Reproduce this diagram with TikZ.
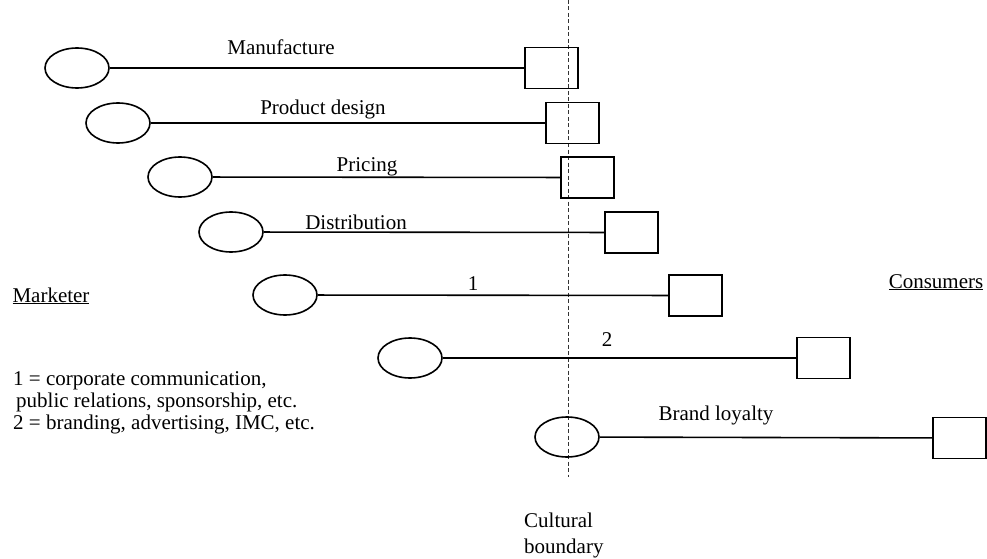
\documentclass[tikz,border=0pt]{standalone}
\usepackage{fontspec}
\setmainfont{Liberation Serif}
\usetikzlibrary{shapes.geometric}
\begin{document}
\begin{tikzpicture}[x=1pt,y=-1pt,
  actor/.style={draw,ellipse,line width=1.6pt,minimum width=64pt,minimum height=40pt,inner sep=0pt},
  target/.style={draw,rectangle,line width=1.6pt,minimum width=53pt,minimum height=41pt,inner sep=0pt},
  link/.style={line width=1.6pt},
  lbl/.style={font=\fontsize{21}{25}\selectfont,inner sep=0pt,anchor=base},
  side/.style={font=\fontsize{21}{25}\selectfont,inner sep=0pt,anchor=base},
  key/.style={font=\fontsize{21}{25}\selectfont,inner sep=0pt,anchor=base west},
  boundary/.style={line width=0.6pt,dash pattern=on 4pt off 2.5pt,black!80}]
\useasboundingbox (0,0) rectangle (987,559);

% cultural boundary
\coordinate (bt) at (568,0);
\coordinate (bb) at (568,477);
\draw[boundary] (bt) -- (bb);

% marketer (ellipses) linked to consumers (boxes)
\node[actor] (m1) at (77,68) {};
\node[target,anchor=west] (c1) at (524,68) {};
\draw[link] (m1) -- (c1);
\node[lbl] (t1) at (281,55) {Manufacture};

\node[actor] (m2) at (118,123) {};
\node[target,anchor=west] (c2) at (545,123) {};
\draw[link] (m2) -- (c2);
\node[lbl] (t2) at (323,114) {Product design};

\node[actor] (m3) at (180,177) {};
\node[target,anchor=west] (c3) at (560,177.5) {};
\draw[link] (m3) -- (c3);
\node[lbl] (t3) at (367,171) {Pricing};

\node[actor] (m4) at (231,232) {};
\node[target,anchor=west] (c4) at (604,232.5) {};
\draw[link] (m4) -- (c4);
\node[lbl] (t4) at (356,229) {Distribution};

\node[actor] (m5) at (285,295) {};
\node[target,anchor=west] (c5) at (668,295.5) {};
\draw[link] (m5) -- (c5);
\node[lbl] (t5) at (473,290) {1};

\node[actor] (m6) at (410,358) {};
\node[target,anchor=west] (c6) at (796,358) {};
\draw[link] (m6) -- (c6);
\node[lbl] (t6) at (607,346) {2};

\node[actor] (m7) at (567,437) {};
\node[target,anchor=west] (c7) at (932,438) {};
\draw[link] (m7) -- (c7);
\node[lbl] (t7) at (716,420) {Brand loyalty};

% side labels
\node[side] (mk) at (51,302) {\underline{Marketer}};
\node[side] (cs) at (936,288) {\underline{Consumers}};

% legend
\node[key] (k1) at (13,385) {1 = corporate communication,};
\node[key] (k2) at (16,407) {public relations, sponsorship, etc.};
\node[key] (k3) at (13,429) {2 = branding, advertising, IMC, etc.};

\node[key] (cb1) at (524,527) {Cultural};
\node[key] (cb2) at (524,553) {boundary};
\end{tikzpicture}
\end{document}
